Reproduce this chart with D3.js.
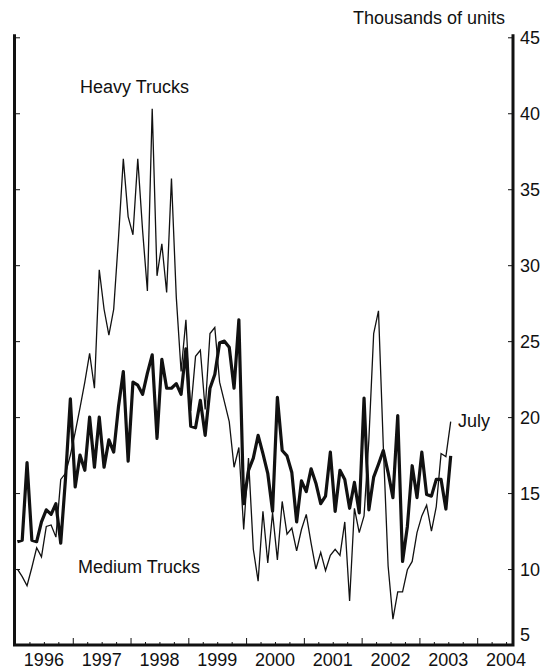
<!DOCTYPE html>
<html><head><meta charset="utf-8">
<script src="https://cdn.jsdelivr.net/npm/d3@7"></script>
<style>
body{margin:0;background:#fff}
svg text{font-family:"Liberation Sans",Arial,Helvetica,sans-serif;fill:#111;font-size:18px}
</style>
</head><body>
<svg id="c" width="550" height="668"></svg>
<script>
// Monthly data, first month = Jan 1996, last = Jul 2003 (thousands of units)
const firstYear = 1996;
const heavyTrucks = [
  10.0, 9.5, 8.9, 10.1, 11.4, 10.8, 12.8, 12.9, 12.1, 15.9, 16.3, 17.5,
  19.0, 20.6, 22.3, 24.2, 21.9, 29.7, 27.1, 25.4, 27.1, 31.8, 37.0, 33.2,
  32.0, 37.0, 32.3, 28.3, 40.3, 29.3, 31.4, 28.2, 35.7, 27.9, 23.0, 26.4,
  20.4, 24.0, 24.4, 20.5, 25.5, 25.9, 22.3, 21.0, 19.7, 16.7, 18.0, 12.6,
  17.3, 11.3, 9.2, 13.8, 10.4, 13.7, 10.6, 14.45, 12.3, 12.7, 11.2, 12.6,
  13.6, 11.7, 10.0, 11.1, 9.9, 10.9, 11.3, 10.9, 13.1, 7.9, 14.0, 12.4,
  13.5, 18.5, 25.5, 27.0, 18.1, 10.2, 6.7, 8.5, 8.5, 9.95, 10.5, 12.4,
  13.5, 14.2, 12.5, 14.1, 17.6, 17.4, 19.7
];
const mediumTrucks = [
  11.8, 11.9, 17.0, 11.9, 11.8, 13.1, 13.9, 13.6, 14.3, 11.7, 16.0, 21.2,
  15.4, 17.5, 16.5, 20.0, 16.7, 20.0, 16.7, 18.5, 17.7, 20.7, 23.0, 17.1,
  22.3, 22.1, 21.5, 22.9, 24.1, 18.6, 23.8, 21.9, 21.9, 22.2, 21.5, 24.5,
  19.4, 19.3, 21.1, 18.8, 21.9, 22.8, 24.9, 25.0, 24.6, 21.9, 26.4, 14.3,
  16.5, 17.3, 18.8, 17.6, 16.3, 13.8, 21.3, 17.8, 17.45, 16.35, 13.1, 15.8,
  15.1, 16.6, 15.65, 14.3, 14.8, 17.7, 13.8, 16.5, 15.9, 14.0, 15.7, 13.7,
  21.25, 13.9, 16.05, 16.9, 17.8, 16.35, 14.7, 20.1, 10.5, 12.8, 16.8, 14.7,
  17.7, 14.9, 14.8, 15.9, 15.9, 13.95, 17.45
];
const yearLabels = [1996, 1997, 1998, 1999, 2000, 2001, 2002, 2003, 2004];
const yearTicks = [1997, 1998, 1999, 2000, 2001, 2002, 2003, 2004];
const yTicks = [5, 10, 15, 20, 25, 30, 35, 40, 45];

const svg = d3.select("#c");
const L = 15, R = 513, T = 37.3, B = 645;
const x = d3.scaleLinear().domain([1996, 2004.62]).range([L, R]);
const y = d3.scaleLinear().domain([5, 45]).range([B, T]);
const t = i => firstYear + (i + 0.5) / 12;

// frame lines
const frame = svg.append("g").attr("stroke", "#111").attr("stroke-width", 3).attr("fill", "none");
frame.append("path").attr("d", `M${L - 0.5},${T - 3}V${B}H${R}V${T - 3}`).attr("stroke-linejoin", "miter");

// y ticks (inward) on left and right
const leftAx = d3.axisRight(y).tickValues(yTicks).tickSize(5).tickFormat("");
const gl = svg.append("g").attr("transform", `translate(${L},0)`).call(leftAx);
const rightAx = d3.axisLeft(y).tickValues(yTicks).tickSize(5).tickFormat("");
const gr = svg.append("g").attr("transform", `translate(${R},0)`).call(rightAx);
[gl, gr].forEach(g => { g.select(".domain").remove(); g.selectAll("line").attr("stroke", "#111").attr("stroke-width", 1); });

// x ticks
const quarters = d3.range(1996.25, 2004.6, 0.25).filter(v => Math.abs(v - Math.round(v)) > 0.01);
const gMinor = svg.append("g").attr("transform", `translate(0,${B})`)
  .call(d3.axisTop(x).tickValues(quarters).tickSize(3).tickFormat(""));
const gMajor = svg.append("g").attr("transform", `translate(0,${B})`)
  .call(d3.axisTop(x).tickValues(yearTicks).tickSize(7).tickFormat(""));
[gMinor, gMajor].forEach(g => { g.select(".domain").remove(); g.selectAll("line").attr("stroke", "#111").attr("stroke-width", 1); });

// year labels
svg.append("g").selectAll("text").data(yearLabels).join("text")
  .attr("x", d => x(d + 0.5)).attr("y", 665.5).attr("text-anchor", "middle").text(d => d);

// right axis labels
svg.append("g").selectAll("text").data(yTicks).join("text")
  .attr("x", 520).attr("y", d => d === 5 ? y(d) - 4 : y(d) + 7).text(d => d);

svg.append("text").attr("x", 505).attr("y", 23.5).attr("text-anchor", "end").text("Thousands of units");

// lines
const line = d3.line().x((d, i) => x(t(i))).y(d => y(d)).curve(d3.curveLinear);
svg.append("path").datum(heavyTrucks).attr("d", line)
  .attr("fill", "none").attr("stroke", "#111").attr("stroke-width", 1.3).attr("stroke-linejoin", "miter");
svg.append("path").datum(mediumTrucks).attr("d", line)
  .attr("fill", "none").attr("stroke", "#111").attr("stroke-width", 3.2).attr("stroke-linejoin", "round");

// labels
svg.append("text").attr("x", 80).attr("y", 93).text("Heavy Trucks");
svg.append("text").attr("x", 78).attr("y", 573).text("Medium Trucks");
svg.append("text").attr("x", 458).attr("y", 427).text("July");
</script>
</body></html>
